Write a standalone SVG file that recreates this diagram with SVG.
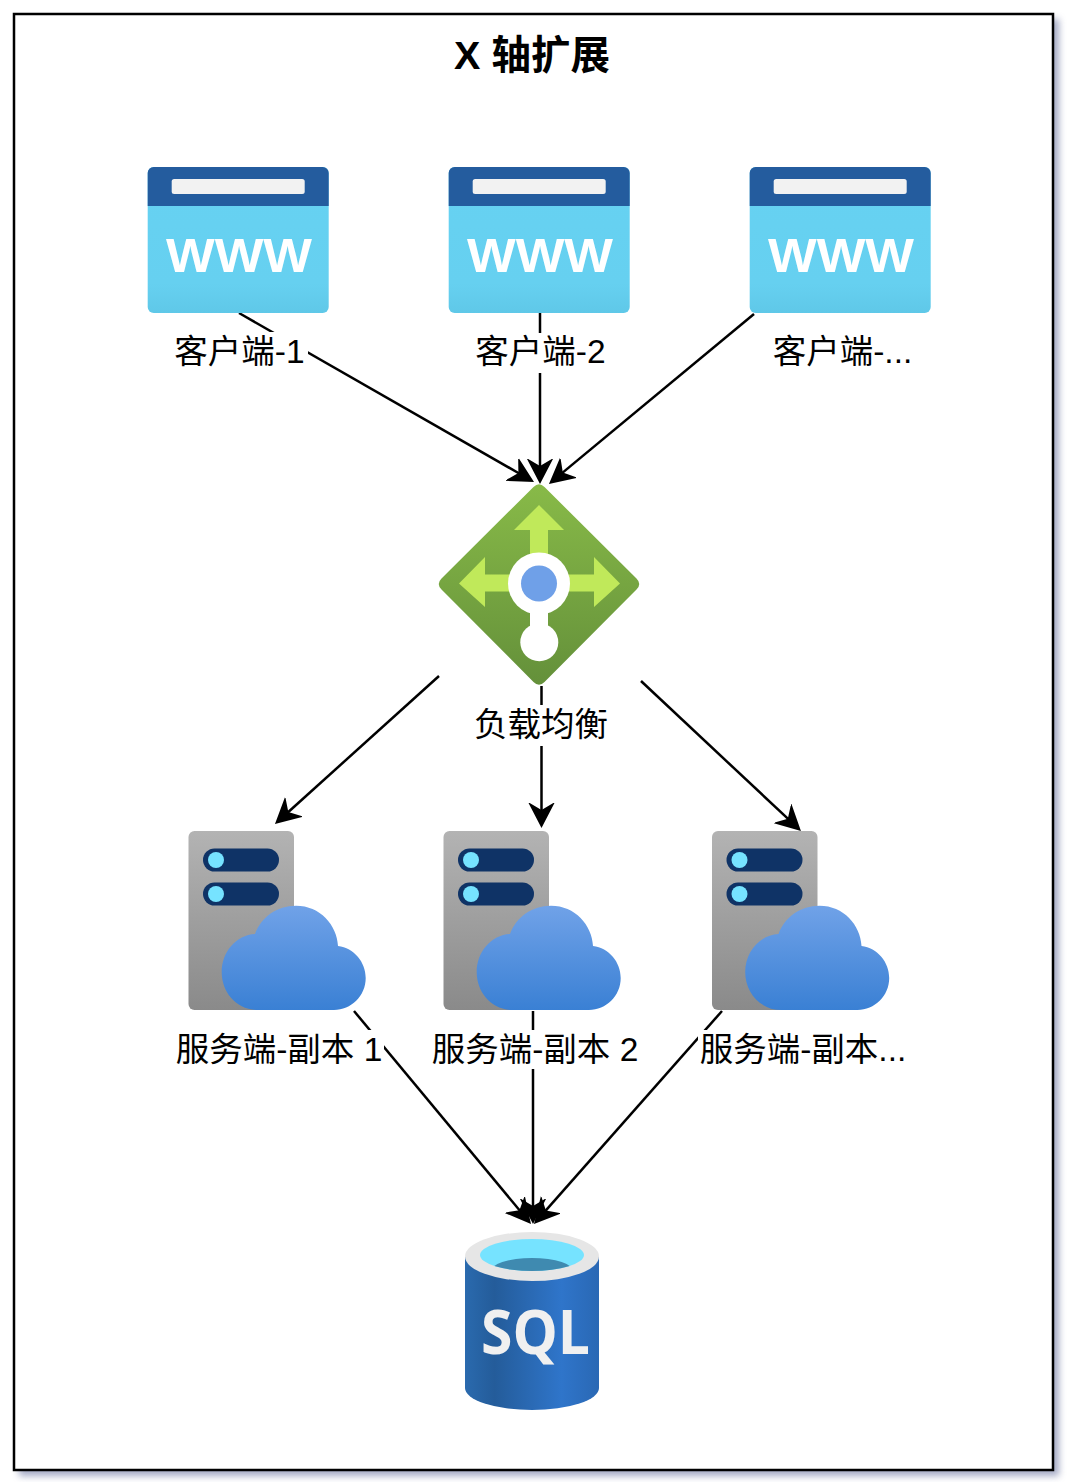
<svg xmlns="http://www.w3.org/2000/svg" xmlns:xlink="http://www.w3.org/1999/xlink" width="1068" height="1482" viewBox="0 0 1068 1482">
<style>
.lbl{font-family:"Liberation Sans","Noto Sans CJK SC",sans-serif;font-size:33.500px;fill:#000;text-anchor:middle;dominant-baseline:central}
.title{font-family:"Liberation Sans","Noto Sans CJK SC",sans-serif;font-size:39.500px;font-weight:700;fill:#000;text-anchor:middle;dominant-baseline:central}
.www{font-family:"Liberation Sans",sans-serif;font-size:49px;font-weight:700;fill:#fff}
.sql{font-family:"Open Sans",sans-serif;font-size:60px;font-weight:700;fill:#f0f0f0}
.conn line{stroke:#000;stroke-width:2.500;fill:none;marker-end:url(#arrow)}
.mask{fill:#fff}
</style>
<defs>
<filter id="blur" x="-5%" y="-5%" width="110%" height="110%"><feGaussianBlur stdDeviation="3.500"/></filter>
<marker id="arrow" markerUnits="userSpaceOnUse" markerWidth="30" markerHeight="30" refX="10" refY="15" orient="auto" viewBox="0 0 30 30"><path d="M25,15 L-1,1.500 L7,15 L-1,28.500 Z" fill="#000"/></marker>
<linearGradient id="gW" x1="0" y1="0" x2="0" y2="1"><stop offset="0" stop-color="#66d2f2"/><stop offset=".8" stop-color="#66d0f0"/><stop offset="1" stop-color="#5fc8e8"/></linearGradient>
<linearGradient id="gL" x1="0" y1="0" x2="0" y2="1"><stop offset="0" stop-color="#88ba48"/><stop offset="1" stop-color="#64903a"/></linearGradient>
<linearGradient id="gS" x1="0" y1="0" x2="0" y2="1"><stop offset="0" stop-color="#b3b3b3"/><stop offset="1" stop-color="#8a8a8a"/></linearGradient>
<linearGradient id="gC" x1="0" y1="0" x2="0" y2="1"><stop offset="0" stop-color="#70a2e8"/><stop offset="1" stop-color="#3a80d4"/></linearGradient>
<linearGradient id="gD" x1="0" y1="0" x2="1" y2="0"><stop offset="0" stop-color="#2a6aae"/><stop offset=".22" stop-color="#245c9a"/><stop offset=".72" stop-color="#2f75ca"/><stop offset="1" stop-color="#2a68b4"/></linearGradient>
<clipPath id="cD"><ellipse cx="532" cy="1255" rx="52" ry="16"/></clipPath>
<g id="wwwIcon">
<rect x="147.700" y="167" width="181" height="146" rx="6" fill="url(#gW)"/>
<path d="M147.700,206 V173 a6,6 0 0 1 6,-6 H322.700 a6,6 0 0 1 6,6 V206 Z" fill="#245c9e"/>
<rect x="171.700" y="179" width="133" height="15" rx="2.500" fill="#f2f2f2"/>
<text class="www" x="166" y="272" textLength="146" lengthAdjust="spacingAndGlyphs">WWW</text>
</g>
<g id="srvIcon">
<rect x="188.500" y="831" width="105.500" height="179" rx="6" fill="url(#gS)"/>
<rect x="203" y="848.500" width="76" height="23" rx="11.500" fill="#0f3366"/>
<circle cx="216" cy="860" r="8" fill="#76e3ff"/>
<rect x="203" y="882.500" width="76" height="23" rx="11.500" fill="#0f3366"/>
<circle cx="216" cy="894" r="8" fill="#76e3ff"/>
<path d="M258,1010 C236,1010 221.700,992 221.700,972 C221.700,952 236,935 255,934 C261,917 277,905.700 296,905.700 C320,905.700 337,925 338,946 C354,948 365.700,962 365.700,978 C365.700,996 351,1010 334,1010 Z" fill="url(#gC)"/>
</g>
</defs>

<g id="frame">
<rect x="19" y="19" width="1040" height="1457" fill="#7f87ad" opacity=".7" filter="url(#blur)"/>
<rect x="14" y="14" width="1039" height="1456" fill="#fff" stroke="#000" stroke-width="2.500"/>
</g>
<text class="title" x="532" y="55">X 轴扩展</text>

<g id="connectors" class="conn">
<line x1="239" y1="313" x2="521" y2="474.500"/>
<line x1="540" y1="313" x2="540" y2="469"/>
<line x1="754" y1="314" x2="560.500" y2="474.400"/>
<line x1="439" y1="676" x2="286.100" y2="814"/>
<line x1="541.500" y1="686" x2="541.500" y2="813"/>
<line x1="641" y1="681" x2="790" y2="820.700"/>
<line x1="354" y1="1011" x2="521.400" y2="1212.500"/>
<line x1="533" y1="1011" x2="533" y2="1209"/>
<line x1="722" y1="1011" x2="543.900" y2="1212.700"/>
</g>

<g id="client-1"><use xlink:href="#wwwIcon"/><rect class="mask" x="174" y="332" width="134" height="40"/><text class="lbl" x="239.500" y="351">客户端-1</text></g>
<g id="client-2"><use xlink:href="#wwwIcon" x="301"/><rect class="mask" x="473" y="333" width="135" height="40"/><text class="lbl" x="540.500" y="351">客户端-2</text></g>
<g id="client-3"><use xlink:href="#wwwIcon" x="602"/><text class="lbl" x="842.500" y="351">客户端-...</text></g>

<g id="lb">
<path d="M533.500,487 Q539,481.500 544.500,487 L636.500,578.500 Q642,584 636.500,589.500 L544.500,682 Q539,687.500 533.500,682 L441.500,589.500 Q436,584 441.500,578.500 Z" fill="url(#gL)"/>
<path d="M539,505 L564,530 H548 V574.500 H594 V557 L620,583.500 L594,607 V591.500 H548 V620 H530 V591.500 H485 V607 L459,583.500 L485,557 V574.500 H530 V530 H514 Z" fill="#c0e95a"/>
<rect x="530" y="600" width="18" height="30" fill="#fff"/>
<circle cx="539" cy="583.500" r="31" fill="#fff"/>
<circle cx="539" cy="583.500" r="18" fill="#6fa0e8"/>
<circle cx="539.300" cy="642.300" r="19" fill="#fff"/>
<rect class="mask" x="472" y="705" width="138" height="41"/>
<text class="lbl" x="541" y="724">负载均衡</text>
</g>

<g id="server-1"><use xlink:href="#srvIcon"/><rect class="mask" x="175" y="1030" width="209" height="39"/><text class="lbl" x="279" y="1049">服务端-副本 1</text></g>
<g id="server-2"><use xlink:href="#srvIcon" x="255"/><rect class="mask" x="430" y="1030" width="210" height="39"/><text class="lbl" x="535" y="1049">服务端-副本 2</text></g>
<g id="server-3"><use xlink:href="#srvIcon" x="523.500"/><rect class="mask" x="698" y="1030" width="210" height="39"/><text class="lbl" x="803" y="1049">服务端-副本...</text></g>

<g id="db">
<path d="M465,1257 V1388 A67,22 0 0 0 599,1388 V1257 Z" fill="url(#gD)"/>
<ellipse cx="532" cy="1256.500" rx="67" ry="24.500" fill="#e6e6e6"/>
<ellipse cx="532" cy="1255" rx="52" ry="16" fill="#76e3ff"/>
<ellipse cx="532" cy="1272" rx="42" ry="14" fill="#3f8ab0" clip-path="url(#cD)"/>
<text class="sql" x="481" y="1354" textLength="109" lengthAdjust="spacingAndGlyphs">SQL</text>
</g>
</svg>
